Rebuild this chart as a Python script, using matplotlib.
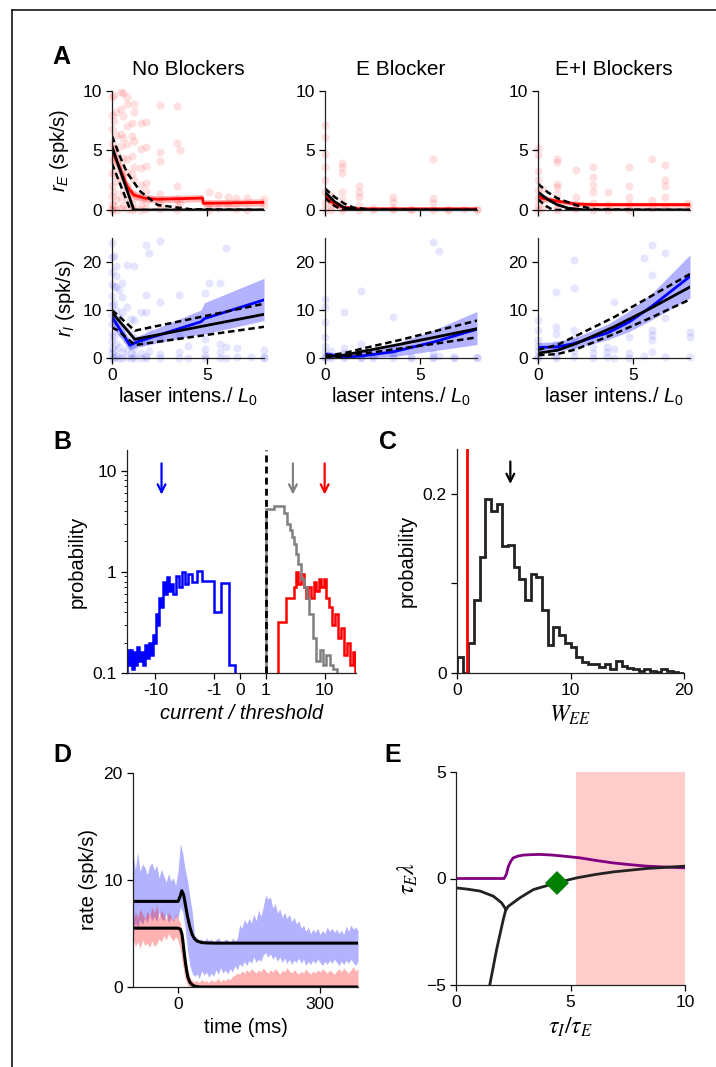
import numpy as np
import matplotlib
matplotlib.use("Agg")
import matplotlib.pyplot as plt
from matplotlib.lines import Line2D
from matplotlib.ticker import NullLocator

plt.rcParams['font.family'] = ['Liberation Sans', 'DejaVu Sans']
plt.rcParams['mathtext.fontset'] = 'custom'
plt.rcParams['mathtext.it'] = 'Liberation Sans:italic'
plt.rcParams['mathtext.rm'] = 'Liberation Sans'
plt.rcParams['axes.linewidth'] = 0.9
plt.rcParams['axes.edgecolor'] = '#222222'
plt.rcParams['xtick.major.width'] = 0.9
plt.rcParams['ytick.major.width'] = 0.9
plt.rcParams['xtick.major.size'] = 4
plt.rcParams['ytick.major.size'] = 4
plt.rcParams['xtick.labelsize'] = 12.5
plt.rcParams['ytick.labelsize'] = 12.5

W, H = 716, 1067
LAB = 14.5

# ---------------- panel A : data ----------------
cond_titles = ["No Blockers", "E Blocker", "E+I Blockers"]

# single units: (laser intensity, [rates])
e_pts = [
    [(0, [9.5, 8.0, 6.8, 5.6, 4.2, 3.1, 2.0, 1.2, 0.5, 0.1, 0]),
     (0.1, [9.6, 7.5, 5.2, 3.0, 1.5, 0.3]),
     (0.2, [8.2, 6.3, 4.8, 2.4, 0.8, 0]),
     (0.45, [9.9, 8.5, 6.4, 5.4, 3.8, 2.5, 1.1, 0.2]),
     (0.6, [9.8, 7.9, 6.0, 4.4, 2.9, 1.6, 0.4]),
     (0.8, [9.5, 8.9, 7.0, 5.5, 4.3, 3.2, 2.0, 0.9, 0.1]),
     (1.05, [7.3, 6.2, 4.5, 3.0, 1.4, 0.5, 0]),
     (1.15, [8.9, 8.2, 5.8, 3.6, 2.5, 1.0, 0.2]),
     (1.5, [7.3, 5.1, 3.5, 2.1, 1.1, 0.4, 0]),
     (1.8, [7.4, 5.3, 3.7, 2.3, 1.6, 0.7, 0.1]),
     (2.5, [8.8, 4.9, 4.1, 1.3, 0.5, 0.1]),
     (3.4, [8.7, 5.6, 2.0, 0.9, 0.3, 0]),
     (3.6, [5.0, 0.6]),
     (5.1, [1.5, 0.5, 0]),
     (5.6, [1.25, 0.2]),
     (6.1, [1.1, 0.3]),
     (6.5, [1.0, 0.1]),
     (7.1, [1.0, 0]),
     (8.0, [0.4, 0.9])],
    [(0, [7.1, 6.1, 4.7, 3.6, 2.5, 1.5, 0.6, 0]),
     (0.3, [1.2, 0.3, 0]),
     (0.9, [3.9, 3.6, 3.1, 1.5, 0.8, 0.2, 0]),
     (1.8, [2.0, 1.5, 1.1, 0.4, 0]),
     (2.5, [0.2, 0]),
     (3.6, [1.1, 0.7, 0.2, 0]),
     (4.5, [0, 0.1]),
     (5.7, [4.3, 1.0, 0.55, 0]),
     (6.5, [0.1, 0]),
     (7.3, [0.1]),
     (8.0, [0.1, 0])],
    [(0, [5.2, 4.6, 3.3, 2.5, 1.7, 1.0, 0.4, 0]),
     (0.2, [1.8, 0.9, 0.2]),
     (1.0, [4.3, 4.0, 2.2, 1.95, 1.3, 0.7, 0.2, 0]),
     (2.0, [3.35, 1.1, 0.5, 0.1]),
     (2.9, [3.6, 2.8, 2.1, 1.5, 0.6, 0]),
     (3.7, [1.5, 0.4, 0]),
     (4.8, [3.6, 2.0, 1.1, 0.5, 0]),
     (6.0, [4.3, 0.8, 0.2]),
     (6.7, [3.8, 2.5, 2.0, 1.1, 0.3]),
     (7.9, [0.55, 0.2])],
]
i_pts = [
    [(0, [24, 21, 18, 15.5, 13, 11, 9, 7, 5, 3.5, 2, 1, 0]),
     (0.1, [21.2, 15, 11.5, 8, 4.5, 1.5, 0]),
     (0.2, [19.1, 17.0, 14.8, 10, 6.2, 3.0, 0.5]),
     (0.35, [14.2, 8.5, 2.2, 0]),
     (0.55, [15.6, 12.8, 9.5, 5.0, 1.2, 0]),
     (0.8, [19.4, 10.7, 6.5, 3.5, 1.8, 0.3]),
     (1.0, [8.2, 5.0, 2.6, 1.0, 0]),
     (1.15, [19.1, 7.9, 4.2, 2.0, 0.6, 0]),
     (1.5, [9.5, 3.1, 1.0, 0]),
     (1.8, [23.6, 13.1, 9.6, 3.5, 0.5, 0]),
     (1.95, [21.9, 6.0, 1.5]),
     (2.5, [24.3, 11.7, 4.0, 0.8, 0]),
     (3.5, [13.1, 4.5, 1.2, 0]),
     (4.0, [2.5, 0]),
     (4.9, [13.5, 4.0, 1.9, 0.6, 0]),
     (5.1, [15.6]),
     (5.7, [15.6, 3.0, 1.2, 0]),
     (6.0, [22.9, 2.3, 0]),
     (6.6, [2.0, 0.3]),
     (7.3, [0.2]),
     (8.0, [1.6, 0.2, 0])],
    [(0, [12.3, 10.6, 7.5, 4.3, 2.5, 1.2, 0.3, 0]),
     (0.3, [1.5, 0.5, 0]),
     (1.0, [9.5, 2.0, 1.0, 0.4, 0]),
     (1.9, [13.9, 2.9, 1.2, 0.3, 0]),
     (2.5, [0.5, 0]),
     (3.6, [8.5, 1.8, 0.6, 0]),
     (4.5, [0.2, 0]),
     (5.7, [24.2, 1.1, 0.3, 0]),
     (6.0, [22.3, 0.5]),
     (6.8, [0, 0.2]),
     (8.0, [0.2, 0])],
    [(0, [7.9, 5.8, 3.7, 2.5, 1.5, 0.5, 0]),
     (0.95, [13.8, 6.5, 5.1, 3.0, 1.6, 0.5, 0]),
     (1.9, [20.5, 14.5, 5.8, 4.1, 3.0, 1.5, 0.3]),
     (2.9, [2.3, 1.0, 0]),
     (3.65, [2.3, 1.3, 0.2]),
     (4.0, [11.7, 1.8, 0]),
     (4.8, [4.4, 1.0, 0]),
     (5.6, [20.8, 0.5]),
     (6.0, [23.6, 17.3, 5.8, 4.8, 3.7, 1.2]),
     (6.7, [21.9, 8.3, 0.2]),
     (8.0, [5.5, 4.4, 0.3])],
]

# population mean and band
e_x = [[0, 0.45, 0.8, 1.15, 1.7, 2.4, 4.77, 4.8, 8],
       [0, 0.3, 0.9, 1.8, 3.6, 5.7, 8],
       [0, 0.2, 1.0, 2.0, 2.9, 4.8, 8]]
e_mean = [[5.0, 3.35, 1.96, 1.26, 1.0, 0.9, 1.0, 0.56, 0.64],
          [1.2, 0.7, 0.25, 0.1, 0.1, 0.1, 0.1],
          [1.2, 1.0, 0.75, 0.5, 0.45, 0.45, 0.45]]
e_hw = [[0.8, 0.6, 0.45, 0.35, 0.3, 0.3, 0.3, 0.3, 0.3],
        [0.4, 0.3, 0.15, 0.1, 0.1, 0.1, 0.1],
        [0.35, 0.3, 0.2, 0.2, 0.2, 0.2, 0.2]]

i_x = [[0, 0.94, 1.33, 4.68, 4.86, 8],
       [0, 1.0, 1.9, 3.6, 5.7, 8],
       [0, 0.95, 1.9, 2.9, 3.65, 4.8, 6.0, 8]]
i_mean = [[8.6, 2.66, 3.36, 7.55, 8.2, 12.1],
          [0.8, 0.2, 0.4, 1.3, 3.3, 6.0],
          [2.2, 2.3, 3.0, 4.3, 5.2, 7.5, 10.8, 17.0]]
i_lo = [[6.5, 1.8, 2.3, 5.0, 5.0, 7.8],
        [0.2, 0, 0, 0.3, 1.5, 2.8],
        [1.2, 1.4, 2.0, 3.0, 3.8, 5.5, 8.0, 12.5]]
i_hi = [[10.5, 3.6, 4.5, 10.0, 11.5, 16.6],
        [1.4, 0.8, 1.2, 2.8, 5.8, 9.7],
        [3.2, 3.4, 4.2, 5.8, 7.0, 9.8, 13.5, 21.5]]

# model fits: solid, upper dashed, lower dashed  (x, y)
e_fit = [
    [([0, 1.15, 8], [5.3, 0, 0]),
     ([0, 0.44, 0.8, 1.5, 2.4, 4.15, 8], [6.2, 4.4, 3.1, 1.54, 0.42, 0.06, 0]),
     ([0, 0.97, 8], [3.9, 0, 0])],
    [([0, 0.5, 1.0, 1.6, 8], [1.5, 0.7, 0.2, 0, 0]),
     ([0, 0.5, 1.0, 1.5, 2.5, 8], [1.8, 1.1, 0.55, 0.2, 0.02, 0]),
     ([0, 0.5, 0.9, 8], [1.0, 0.35, 0, 0])],
    [([0, 0.5, 1.0, 1.6, 2.5, 8], [1.5, 0.9, 0.45, 0.15, 0, 0]),
     ([0, 0.5, 1.0, 2.0, 3.0, 8], [2.2, 1.5, 1.0, 0.4, 0.05, 0]),
     ([0, 0.4, 0.8, 8], [0.9, 0.35, 0, 0])],
]
i_fit = [
    [([0, 1.2, 8], [9.5, 3.9, 9.1]),
     ([0, 1.2, 8], [10.0, 5.7, 11.3]),
     ([0, 0.3, 1.2, 8], [6.3, 5.8, 2.7, 6.5])],
    [([0, 1, 2, 4, 6, 8], [0.2, 0.6, 1.4, 2.9, 4.5, 6.1]),
     ([0, 1, 2, 4, 6, 8], [0.5, 1.0, 2.0, 3.8, 5.8, 7.8]),
     ([0, 1, 2, 4, 6, 8], [0, 0.3, 0.9, 2.0, 3.1, 4.3])],
    [([0, 1, 2, 4, 6, 8], [1.0, 1.6, 3.0, 6.5, 10.5, 14.8]),
     ([0, 1, 2, 4, 6, 8], [1.7, 2.7, 4.6, 8.5, 13.0, 17.5]),
     ([0, 1, 2, 4, 6, 8], [0.6, 0.8, 1.8, 5.0, 8.5, 12.2])],
]

# ---------------- panel B : data ----------------
blue_edges = [-30, -28, -26.5, -25, -23.5, -22, -20.5, -19, -17.5, -16, -15, -14,
              -13, -12, -11.2, -10.5, -9.8, -9.2, -8.6, -8.0, -7.5, -7.0, -6.5,
              -6.0, -5.5, -5.0, -4.5, -4.0, -3.6, -3.2, -2.8, -2.4, -2.0, -1.6,
              -1.0, -0.75, -0.45, -0.2]
blue_prob = [0.17, 0.12, 0.17, 0.11, 0.16, 0.12, 0.18, 0.13, 0.16, 0.12, 0.19, 0.14,
             0.2, 0.15, 0.24, 0.2, 0.38, 0.3, 0.55, 0.45, 0.8, 0.6, 0.88, 0.65,
             0.75, 0.6, 0.9, 0.7, 1.0, 0.75, 0.95, 0.8, 1.02, 0.82, 0.4, 0.78, 0.12]
red_edges = [1.6, 2.2, 3.0, 3.3, 3.6, 4.0, 4.4, 4.8, 5.3, 5.9, 6.5, 7.2, 8.0, 8.8,
             9.7, 10.7, 12, 13.5, 15, 17, 19, 21, 24, 27, 30, 33]
red_prob = [0.32, 0.55, 0.7, 1.0, 0.75, 0.95, 0.7, 0.55, 0.7, 0.55, 0.8, 0.65, 0.85,
            0.7, 0.85, 0.55, 0.45, 0.3, 0.38, 0.22, 0.28, 0.15, 0.2, 0.12, 0.16]
gray_edges = [1.0, 1.37, 2.04, 2.33, 2.6, 2.84, 3.05, 3.25, 3.6, 3.97, 4.5, 5.0,
              5.5, 6.3, 7.2, 8.2, 9.4, 10.7, 12.2, 14, 15.9]
gray_prob = [4.2, 4.5, 3.8, 3.0, 2.6, 2.2, 1.9, 1.5, 1.2, 0.85, 0.7, 0.55, 0.38,
             0.22, 0.13, 0.17, 0.12, 0.15, 0.12, 0.11]
b_arrows = [(-7.9, 'blue'), (2.9, 'gray'), (10.0, 'red')]

# ---------------- panel C : data ----------------
wee_edges = np.arange(0, 20.5, 0.5)
wee_prob = [0.018, 0, 0.033, 0.081, 0.129, 0.194, 0.181, 0.189, 0.142, 0.143,
            0.118, 0.105, 0.081, 0.111, 0.107, 0.070, 0.031, 0.051, 0.042, 0.033,
            0.029, 0.018, 0.012, 0.010, 0.010, 0.007, 0.010, 0.005, 0.013, 0.008,
            0.006, 0.004, 0.002, 0.004, 0.002, 0.001, 0.004, 0.002, 0.001, 0.0]
wee_crit = 0.9
wee_mean = 4.7

# ---------------- panel D : data ----------------
t_ms = np.arange(-95, 381, 5)
i_up = [12.5, 11.0, 12.6, 10.8, 11.5, 11.2, 10.5, 11.3, 11.6, 10.9, 11.4, 10.2,
        11.0, 10.4, 9.8, 10.6, 9.9, 10.2, 9.5, 10.8,
        13.4, 12.5, 11.0, 10.0, 8.5, 7.0, 4.8, 4.6, 4.4, 4.5, 4.2, 4.6, 4.3, 4.5,
        4.1, 4.4, 4.6, 4.3, 4.2, 4.5, 4.4, 4.0, 4.6, 4.3, 4.5, 5.8, 5.5, 6.3, 5.9,
        6.4, 6.0, 6.8, 6.2, 7.2, 6.6, 7.5, 8.6, 8.2, 8.4, 7.4, 7.8, 6.9, 7.3, 6.5,
        7.0, 6.4, 6.8, 6.1, 6.5, 5.9, 6.2, 5.5, 5.8, 5.2, 5.6, 5.0, 5.4, 5.1, 5.5,
        4.9, 5.3, 5.0, 5.6, 5.2, 5.5, 5.1, 5.4, 5.0, 5.3, 4.9, 5.7, 5.2, 5.8, 5.4,
        5.6, 5.3]
i_dn = [5.2, 6.0, 5.5, 6.3, 5.8, 6.5, 6.0, 6.8, 6.2, 6.6, 6.1, 7.0, 6.4, 6.2,
        6.8, 6.0, 6.5, 6.1, 6.7, 6.4,
        7.5, 7.0, 5.5, 3.5, 2.0, 1.3, 1.0, 1.2, 0.8, 1.5, 1.1, 1.4, 0.9, 1.3, 1.0,
        1.6, 1.2, 1.8, 1.3, 1.6, 1.2, 1.7, 1.4, 2.0, 1.6, 2.2, 1.9, 2.4, 2.0, 2.5,
        2.2, 2.8, 2.3, 2.6, 2.4, 3.0, 3.2, 2.8, 3.1, 2.6, 2.9, 2.4, 2.8, 2.3, 2.7,
        2.2, 2.6, 2.1, 2.5, 2.3, 2.7, 2.2, 2.6, 2.0, 2.4, 2.1, 2.5, 2.2, 2.6, 2.3,
        2.0, 2.4, 2.1, 2.5, 2.2, 2.6, 2.3, 2.0, 2.4, 2.1, 2.5, 2.2, 2.6, 2.3, 2.0,
        2.4]
e_up = [6.2, 7.0, 6.5, 7.3, 6.8, 6.4, 7.1, 6.6, 7.5, 6.9, 7.7, 6.5, 7.2, 6.8,
        6.3, 7.0, 6.6, 6.2, 6.9, 6.4,
        6.0, 5.0, 3.0, 1.6, 0.9, 0.6, 0.5, 0.6, 0.4, 0.7, 0.5, 0.6, 0.4, 0.7, 0.5,
        0.6, 0.8, 0.5, 0.7, 0.6, 0.8, 0.7, 1.0, 1.1, 1.3, 1.2, 1.5, 1.3, 1.6, 1.4,
        1.7, 1.5, 1.3, 1.6, 1.4, 1.8, 1.5, 1.3, 1.6, 1.4, 1.7, 1.5, 1.2, 1.6, 1.4,
        1.8, 1.5, 1.3, 1.6, 1.4, 1.2, 1.5, 1.3, 1.7, 1.4, 1.2, 1.5, 1.3, 1.6, 1.4,
        1.7, 1.5, 1.3, 1.6, 1.4, 1.2, 1.5, 1.7, 1.4, 1.8, 1.5, 1.3, 1.6, 1.9, 1.5,
        1.7]
e_dn = [4.5, 3.8, 4.2, 3.6, 4.4, 3.9, 4.1, 3.7, 4.3, 3.8, 4.0, 4.5, 4.2, 4.8,
        4.4, 5.0, 4.6, 4.3, 4.7, 4.4,
        3.5, 2.0, 0.8, 0.2] + [0.0] * 72
mod_i_t = [-95, 0, 4, 8, 12, 16, 20, 25, 30, 35, 40, 50, 60, 80, 380]
mod_i_r = [8.0, 8.0, 8.4, 9.0, 8.6, 7.6, 6.6, 5.6, 4.9, 4.5, 4.3, 4.15, 4.12, 4.1, 4.1]
mod_e_t = [-95, 0, 5, 8, 10, 12, 15, 18, 21, 25, 30, 35, 42, 50, 380]
mod_e_r = [5.5, 5.5, 5.4, 5.0, 4.4, 3.6, 2.5, 1.6, 0.9, 0.45, 0.2, 0.08, 0.02, 0, 0]

# ---------------- panel E : data ----------------
pur_x = [0, 2.1, 2.2, 2.29, 2.4, 2.5, 2.7, 2.94, 3.3, 3.67, 4.2, 4.69, 5.41, 6.1,
         6.87, 7.6, 8.33, 9.1, 10]
pur_y = [0, 0, 0.2, 0.58, 0.82, 0.97, 1.05, 1.1, 1.12, 1.13, 1.1, 1.05, 0.97, 0.85,
         0.73, 0.65, 0.58, 0.54, 0.5]
br1_x = [0, 0.5, 1.05, 1.63, 1.99, 2.18]
br1_y = [-0.44, -0.5, -0.59, -0.83, -1.14, -1.45]
br2_x = [1.42, 1.78, 2.07, 2.18]
br2_y = [-5.3, -3.3, -1.9, -1.45]
brc_x = [2.18, 2.29, 2.8, 3.38, 4.4, 5.27, 6.1, 6.87, 8.33, 10]
brc_y = [-1.45, -1.3, -0.9, -0.52, -0.2, 0.03, 0.19, 0.31, 0.47, 0.58]
op_point = (4.4, -0.2)
unstable_from = 5.24


def box(x0, y0, x1, y1):
    """像素框 -> 图坐标"""
    return [x0 / W, 1 - y1 / H, (x1 - x0) / W, (y1 - y0) / H]


def despine(ax):
    ax.spines['top'].set_visible(False)
    ax.spines['right'].set_visible(False)


def expand(pts):
    xs, ys = [], []
    for x, vals in pts:
        xs += [x] * len(vals)
        ys += vals
    return xs, ys


fig = plt.figure(figsize=(W / 100, H / 100), dpi=100)

# 外框
fig.add_artist(Line2D([12 / W, 1.0], [1 - 10 / H] * 2, transform=fig.transFigure,
                      color='black', lw=1.1))
fig.add_artist(Line2D([12 / W] * 2, [0, 1 - 10 / H], transform=fig.transFigure,
                      color='black', lw=1.1))

dash = (0, (2.6, 1.5))
lefts = [112, 325, 538]
for k in range(3):
    x0 = lefts[k]
    # r_E row
    ax = fig.add_axes(box(x0, 90.7, x0 + 152, 210))
    despine(ax)
    xs, ys = expand(e_pts[k])
    ax.scatter(xs, ys, s=34, color='red', alpha=0.12, lw=0, clip_on=False)
    lo = np.array(e_mean[k]) - np.array(e_hw[k])
    hi = np.array(e_mean[k]) + np.array(e_hw[k])
    ax.fill_between(e_x[k], lo, hi, color='red', alpha=0.28, lw=0)
    ax.plot(e_x[k], e_mean[k], color='red', lw=2)
    (sx, sy), (ux, uy), (lx, ly) = e_fit[k]
    ax.plot(sx, sy, color='black', lw=2)
    ax.plot(ux, uy, color='black', lw=1.8, linestyle=dash)
    ax.plot(lx, ly, color='black', lw=1.8, linestyle=dash)
    ax.set_xlim(0, 8)
    ax.set_ylim(0, 10)
    ax.set_xticks([0, 5])
    ax.set_xticklabels([])
    ax.set_yticks([0, 5, 10])
    ax.set_title(cond_titles[k], fontsize=15, pad=11)
    if k == 0:
        ax.set_ylabel(r'$r_E$ (spk/s)', fontsize=LAB, labelpad=8)

    # r_I row
    ax = fig.add_axes(box(x0, 238, x0 + 152, 358))
    despine(ax)
    xs, ys = expand(i_pts[k])
    ax.scatter(xs, ys, s=34, color='blue', alpha=0.1, lw=0, clip_on=False)
    ax.fill_between(i_x[k], i_lo[k], i_hi[k], color='blue', alpha=0.3, lw=0)
    ax.plot(i_x[k], i_mean[k], color='blue', lw=2)
    (sx, sy), (ux, uy), (lx, ly) = i_fit[k]
    ax.plot(sx, sy, color='black', lw=2)
    ax.plot(ux, uy, color='black', lw=1.8, linestyle=dash)
    ax.plot(lx, ly, color='black', lw=1.8, linestyle=dash)
    ax.set_xlim(0, 8)
    ax.set_ylim(0, 25)
    ax.set_xticks([0, 5])
    ax.set_yticks([0, 10, 20])
    ax.set_xlabel(r'laser intens./ $L_{\mathit{0}}$', fontsize=LAB, labelpad=2)
    if k == 0:
        ax.set_ylabel(r'$r_I$ (spk/s)', fontsize=LAB, labelpad=4)

# ---------------- B ----------------
ax = fig.add_axes(box(127, 450, 356, 673))
despine(ax)
ax.set_xscale('symlog', linthresh=1, linscale=0.39)
ax.set_yscale('log')
ax.stairs(red_prob, red_edges, color='red', lw=1.8, baseline=0.05)
ax.stairs(gray_prob, gray_edges, color='gray', lw=1.8, baseline=0.05)
ax.stairs(blue_prob, blue_edges, color='blue', lw=1.8, baseline=0.05)
ax.axvline(1, color='black', lw=2, linestyle=(0, (2.5, 1.5)))
for xa, ca in b_arrows:
    ax.annotate('', xy=(xa, 5.8), xytext=(xa, 11.8),
                arrowprops=dict(arrowstyle='->', color=ca, lw=1.6,
                                mutation_scale=14, shrinkA=0, shrinkB=0))
ax.set_xlim(-30.4, 34)
ax.set_ylim(0.1, 16)
ax.set_xticks([-10, -1, 0, 1, 10])
ax.set_xticklabels(['-10', '-1', '0', '1', '10'])
ax.xaxis.set_minor_locator(NullLocator())
ax.set_yticks([0.1, 1, 10])
ax.set_yticklabels(['0.1', '1', '10'])
ax.set_ylabel('probability', fontsize=LAB)
ax.set_xlabel('current / threshold', fontsize=LAB, style='italic')

# ---------------- C ----------------
ax = fig.add_axes(box(457, 449, 684, 673))
despine(ax)
ax.stairs(wee_prob, wee_edges, color='#222222', lw=2)
ax.axvline(wee_crit, color='red', lw=2)
ax.annotate('', xy=(wee_mean, 0.211), xytext=(wee_mean, 0.236),
            arrowprops=dict(arrowstyle='->', color='black', lw=1.6,
                            mutation_scale=14, shrinkA=0, shrinkB=0))
ax.set_xlim(0, 20)
ax.set_ylim(0, 0.25)
ax.set_xticks([0, 10, 20])
ax.set_yticks([0, 0.1, 0.2])
ax.set_yticklabels(['0', '', '0.2'])
ax.set_ylabel('probability', fontsize=LAB)
ax.set_xlabel(r'$W_{EE}$', fontsize=17, math_fontfamily='stix')

# ---------------- D ----------------
ax = fig.add_axes(box(133, 773, 358, 987))
despine(ax)
ax.fill_between(t_ms, i_dn, i_up, color='blue', alpha=0.3, lw=0)
ax.fill_between(t_ms, e_dn, e_up, color='red', alpha=0.3, lw=0)
ax.plot(mod_i_t, mod_i_r, color='black', lw=2.2)
ax.plot(mod_e_t, mod_e_r, color='black', lw=2.2)
ax.set_xlim(-95, 380)
ax.set_ylim(0, 20)
ax.set_xticks([0, 300])
ax.set_yticks([0, 10, 20])
ax.set_xlabel('time (ms)', fontsize=LAB)
ax.set_ylabel('rate (spk/s)', fontsize=LAB)

# ---------------- E ----------------
ax = fig.add_axes(box(456, 772, 685, 985))
despine(ax)
ax.axvspan(unstable_from, 10, color='#ffcccc', lw=0)
ax.plot(pur_x, pur_y, color='purple', lw=2)
ax.plot(br1_x, br1_y, color='#222222', lw=2)
ax.plot(br2_x, br2_y, color='#222222', lw=2)
ax.plot(brc_x, brc_y, color='#222222', lw=2)
ax.plot([op_point[0]], [op_point[1]], marker='D', color='green', ms=12, mew=0)
ax.set_xlim(0, 10)
ax.set_ylim(-5, 5)
ax.set_xticks([0, 5, 10])
ax.set_yticks([-5, 0, 5])
ax.set_ylabel(r'$\tau_E\lambda$', fontsize=17, math_fontfamily='stix')
ax.set_xlabel(r'$\tau_I/\tau_E$', fontsize=17, math_fontfamily='stix')

# 面板字母
for s, px, py in [('A', 61, 57), ('B', 62, 442), ('C', 388, 442),
                  ('D', 62, 755), ('E', 393, 755)]:
    fig.text(px / W, 1 - py / H, s, fontsize=18, fontweight='bold',
             ha='center', va='center')

fig.savefig('out.png', dpi=100)
